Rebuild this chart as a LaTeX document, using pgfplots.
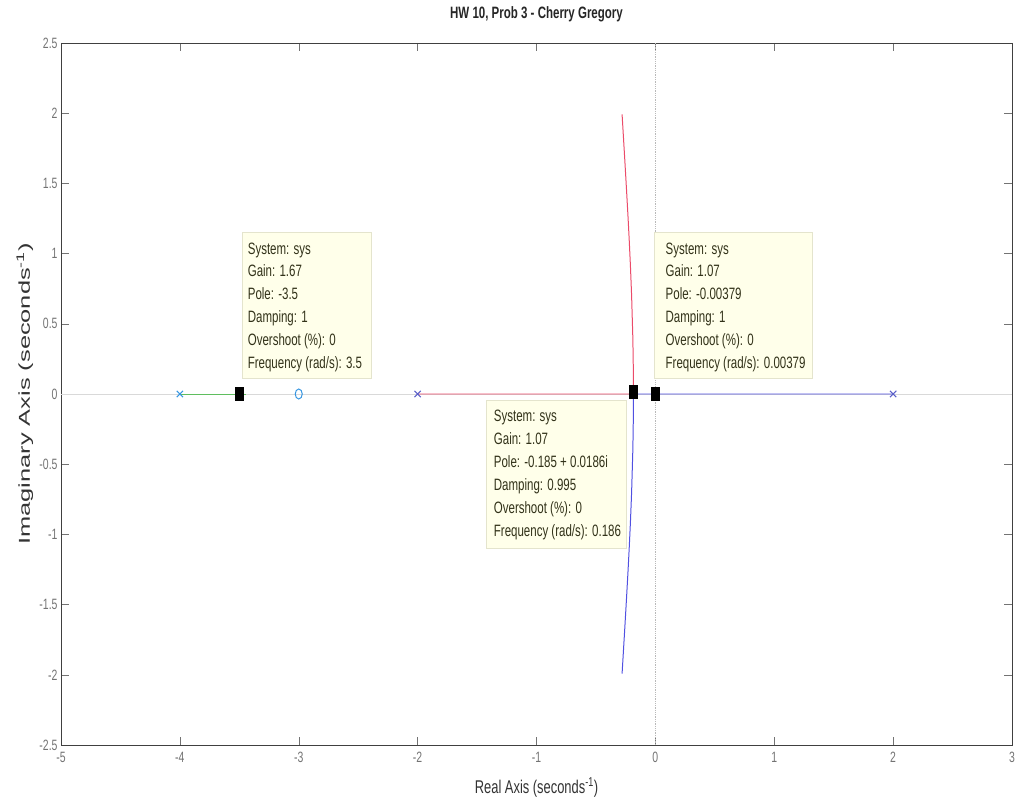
\documentclass[border=0pt]{standalone}
\usepackage{graphicx}
\usepackage{pgfplots}
\pgfplotsset{compat=1.18}
\usepackage{fontspec}
\setmainfont{Liberation Sans}[FakeStretch=0.7]
\newfontfamily\ylabfont{Liberation Sans}
\definecolor{tipfill}{RGB}{255,255,234}
\definecolor{tipdraw}{RGB}{228,228,205}
\definecolor{tiptext}{RGB}{50,50,25}
\definecolor{locblue}{RGB}{80,80,225}
\definecolor{locred}{RGB}{235,75,105}
\definecolor{locgreen}{RGB}{95,190,95}
\definecolor{lightblue}{RGB}{55,150,225}
\definecolor{poleblue}{RGB}{90,95,200}

\pgfplotstableread{
x y
-2 0
-0.1846 0
-0.1850 0.03
-0.1855 0.1665
-0.187 0.2725
-0.19 0.41
-0.20 0.702
-0.21 0.915
-0.22 1.0955
-0.23 1.26
-0.24 1.413
-0.25 1.561
-0.26 1.706
-0.27 1.848
-0.28 1.991
}\redbranch
\pgfplotstableread{
x y
2 0
-0.1846 0
-0.1850 -0.03
-0.1855 -0.1665
-0.187 -0.2725
-0.19 -0.41
-0.20 -0.702
-0.21 -0.915
-0.22 -1.0955
-0.23 -1.26
-0.24 -1.413
-0.25 -1.561
-0.26 -1.706
-0.27 -1.848
-0.28 -1.991
}\bluebranch

\newcommand{\tipfont}{\fontsize{16.5}{23}\selectfont\color{tiptext}}

\begin{document}
\begin{tikzpicture}
\path[use as bounding box] (-61bp,-63bp) rectangle (957bp,745bp);
\begin{axis}[
  at={(0,0)}, anchor=south west, scale only axis,
  width=951bp, height=702bp,
  xmin=-5, xmax=3, ymin=-2.5, ymax=2.5,
  xtick={-5,-4,...,3}, ytick={-2.5,-2,...,2.5},
  tick align=inside, major tick length=8bp,
  axis line style={black!75, line width=0.8pt},
  tick style={black!55, line width=0.5pt},
  /pgf/number format/assume math mode=true,
  ticklabel style={font=\fontsize{15}{17}\selectfont, text=black!55},
  xticklabel style={yshift=-4bp},
  title={\fontsize{16.5}{18}\selectfont\bfseries HW 10, Prob 3 - Cherry Gregory},
  title style={at={(0.5,1)}, anchor=base, yshift=19bp, text=black!85},
  xlabel={\fontsize{18.5}{20}\selectfont Real Axis (seconds\textsuperscript{-1})},
  xlabel style={at={(0.5,0)}, anchor=base, yshift=-48bp, text=black!80},
  ylabel={\scalebox{1}[0.62]{\fontsize{25.5}{28}\ylabfont Imaginary Axis (seconds\textsuperscript{-1})}},
  ylabel style={at={(axis description cs:-0.038,0.5)}, anchor=center, text=black!80},
  clip=false,
]
% reference lines
\addplot[gray!30, line width=1pt] coordinates {(-5,0) (3,0)};
\addplot[gray!55, densely dotted, line width=0.8pt] coordinates {(0,-2.5) (0,2.5)};
% loci
\addplot[locgreen, line width=1pt] coordinates {(-4,0) (-3.44,0)};
\addplot[locred, line width=1pt] table[x=x,y=y] {\redbranch};
\addplot[locblue, line width=1pt] table[x=x,y=y] {\bluebranch};
% poles and zero
\addplot[only marks, mark=x, mark size=4.5bp, lightblue, line width=1pt] coordinates {(-4,0)};
\addplot[only marks, mark=x, mark size=4.5bp, poleblue, line width=1pt] coordinates {(-2,0) (2,0)};
\addplot[only marks, mark=o, mark size=5bp, lightblue, line width=1pt, mark options={xscale=0.7}] coordinates {(-3,0)};
% datatip boxes
\draw[fill=tipfill, draw=tipdraw, line width=0.8pt] (axis cs:-3.47,1.154) rectangle (axis cs:-2.387,0.114);
\node[anchor=north west, align=left, inner sep=0pt, font=\tipfont] at (axis cs:-3.43,1.08)
  {System: sys\\Gain: 1.67\\Pole: -3.5\\Damping: 1\\Overshoot (\%): 0\\Frequency (rad/s): 3.5};
\draw[fill=tipfill, draw=tipdraw, line width=0.8pt] (axis cs:-0.008,1.154) rectangle (axis cs:1.32,0.114);
\node[anchor=north west, align=left, inner sep=0pt, font=\tipfont] at (axis cs:0.085,1.08)
  {System: sys\\Gain: 1.07\\Pole: -0.00379\\Damping: 1\\Overshoot (\%): 0\\Frequency (rad/s): 0.00379};
\draw[fill=tipfill, draw=tipdraw, line width=0.8pt] (axis cs:-1.42,-0.043) rectangle (axis cs:-0.244,-1.097);
\node[anchor=north west, align=left, inner sep=0pt, font=\tipfont] at (axis cs:-1.36,-0.115)
  {System: sys\\Gain: 1.07\\Pole: -0.185 + 0.0186i\\Damping: 0.995\\Overshoot (\%): 0\\Frequency (rad/s): 0.186};
% datatip markers
\addplot[only marks, mark=square*, mark size=6.5bp, black, mark options={xscale=0.65}] coordinates {(-3.5,0) (-0.185,0.0186) (-0.00379,0)};
\end{axis}
\end{tikzpicture}
\end{document}
